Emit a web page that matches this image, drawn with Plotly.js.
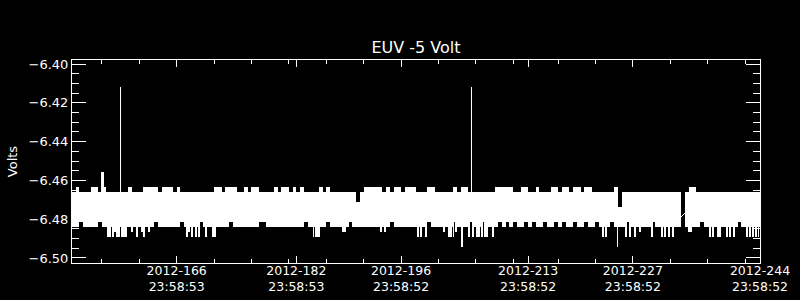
<!DOCTYPE html>
<html>
<head>
<meta charset="utf-8">
<script src="https://cdn.plot.ly/plotly-3.0.1.min.js"></script>
<style>
html,body{margin:0;padding:0;background:#000;}
#chart path.js-line{shape-rendering:crispEdges;}
#chart .bars path{shape-rendering:crispEdges;}
</style>
</head>
<body>
<div id="chart" style="width:800px;height:300px;"></div>
<script>
// ---------------- DATA ----------------
// Major x ticks (day-of-year labels) and their dates
const tickDates = ['2012-06-14 23:58:53','2012-06-30 23:58:53','2012-07-14 23:58:52',
                   '2012-07-31 23:58:52','2012-08-14 23:58:52','2012-08-31 23:58:52'];
const tickLabels = ['2012-166<br>23:58:53','2012-182<br>23:58:53','2012-196<br>23:58:52',
                    '2012-213<br>23:58:52','2012-227<br>23:58:52','2012-244<br>23:58:52'];
// Minor x ticks (day of year)
const minorTickDoy = [157,162,172,177,182,187,192,202,207,212,218,223,233,238,243];
// y ticks
const yTickVals = [-6.50,-6.48,-6.46,-6.44,-6.42,-6.40];

// Half-day envelope of the sampled voltage: maximum and minimum per bin (V)
const binStartDoy = 152.99921;   // 2012-152 23:58:52
const binDays = 0.5;
const bandMax = [
-6.4662,-6.4636,-6.4662,-6.4662,-6.4662,-6.4636,-6.4636,-6.4662,-6.4636,-6.4662,
-6.4662,-6.4662,-6.4662,-6.4662,-6.4662,-6.4636,-6.4662,-6.4662,-6.4662,-6.4636,
-6.4636,-6.4636,-6.4636,-6.4662,-6.4636,-6.4636,-6.4636,-6.4662,-6.4636,-6.4662,
-6.4662,-6.4662,-6.4662,-6.4662,-6.4662,-6.4662,-6.4662,-6.4662,-6.4636,-6.4636,
-6.4662,-6.4636,-6.4636,-6.4636,-6.4662,-6.4662,-6.4636,-6.4662,-6.4636,-6.4636,
-6.4662,-6.4662,-6.4662,-6.4662,-6.4636,-6.4662,-6.4636,-6.4636,-6.4662,-6.4636,
-6.4662,-6.4636,-6.4662,-6.4662,-6.4662,-6.4662,-6.4636,-6.4662,-6.4636,-6.4662,
-6.4662,-6.4662,-6.4662,-6.4662,-6.4662,-6.4662,-6.4713,-6.4662,-6.4636,-6.4636,
-6.4636,-6.4636,-6.4636,-6.4662,-6.4636,-6.4662,-6.4636,-6.4636,-6.4662,-6.4636,
-6.4636,-6.4636,-6.4662,-6.4662,-6.4662,-6.4636,-6.4636,-6.4662,-6.4662,-6.4662,
-6.4662,-6.4662,-6.4636,-6.4662,-6.4636,-6.4636,-6.4662,-6.4662,-6.4662,-6.4662,
-6.4662,-6.4662,-6.4662,-6.4636,-6.4636,-6.4636,-6.4636,-6.4636,-6.4662,-6.4662,
-6.4636,-6.4636,-6.4662,-6.4662,-6.4636,-6.4662,-6.4662,-6.4662,-6.4636,-6.4636,
-6.4662,-6.4636,-6.4636,-6.4662,-6.4636,-6.4636,-6.4662,-6.4636,-6.4636,-6.4662,
-6.4662,-6.4662,-6.4662,-6.4662,-6.4662,-6.4636,-6.4739,-6.4662,-6.4662,-6.4662,
-6.4662,-6.4662,-6.4662,-6.4662,-6.4662,-6.4662,-6.4662,-6.4662,-6.4662,-6.4662,
-6.4662,-6.4662,-6.4662,null,   -6.4662,-6.4636,-6.4636,-6.4662,-6.4662,-6.4662,
-6.4662,-6.4662,-6.4662,-6.4662,-6.4662,-6.4662,-6.4662,-6.4662,-6.4662,-6.4662,
-6.4662,-6.4662,-6.4662,-6.4662
];
const bandMin = [
-6.4842,-6.4842,-6.4816,-6.4842,-6.4842,-6.4842,-6.4842,-6.4816,-6.4842,-6.4842,
-6.4842,-6.4842,-6.4842,-6.4842,-6.4842,-6.4842,-6.4842,-6.4842,-6.4842,-6.4842,
-6.4842,-6.4842,-6.4816,-6.4842,-6.4842,-6.4842,-6.4842,-6.4842,-6.4842,-6.4816,
-6.4842,-6.4842,-6.4842,-6.4842,-6.4816,-6.4842,-6.4842,-6.4842,-6.4842,-6.4842,
-6.4842,-6.4842,-6.4816,-6.4842,-6.4842,-6.4842,-6.4842,-6.4842,-6.4842,-6.4842,
-6.4816,-6.4816,-6.4842,-6.4842,-6.4842,-6.4842,-6.4842,-6.4842,-6.4842,-6.4842,
-6.4842,-6.4842,-6.4816,-6.4842,-6.4842,-6.4893,-6.4842,-6.4842,-6.4816,-6.4842,
-6.4842,-6.4842,-6.4842,-6.4842,-6.4816,-6.4842,-6.4842,-6.4842,-6.4842,-6.4842,
-6.4842,-6.4842,-6.4842,-6.4842,-6.4842,-6.4816,-6.4842,-6.4842,-6.4842,-6.4842,
-6.4842,-6.4842,-6.4842,-6.4842,-6.4842,-6.4816,-6.4842,-6.4842,-6.4842,-6.4842,
-6.4842,-6.4842,-6.4816,-6.4842,-6.4842,-6.4842,-6.4816,-6.4842,-6.4893,-6.4842,
-6.4816,-6.4842,-6.4842,-6.4842,-6.4816,-6.4842,-6.4816,-6.4842,-6.4816,-6.4842,
-6.4842,-6.4816,-6.4842,-6.4816,-6.4842,-6.4842,-6.4816,-6.4842,-6.4842,-6.4816,
-6.4842,-6.4816,-6.4842,-6.4842,-6.4816,-6.4842,-6.4842,-6.4816,-6.4842,-6.4842,
-6.4816,-6.4842,-6.4842,-6.4842,-6.4816,-6.4842,-6.4842,-6.4842,-6.4816,-6.4842,
-6.4842,-6.4842,-6.4842,-6.4842,-6.4842,-6.4816,-6.4842,-6.4842,-6.4842,-6.4842,
-6.4842,-6.4842,-6.4842,null,   -6.4842,-6.4842,-6.4842,-6.4842,-6.4816,-6.4842,
-6.4842,-6.4842,-6.4842,-6.4842,-6.4842,-6.4842,-6.4842,-6.4842,-6.4816,-6.4842,
-6.4842,-6.4842,-6.4842,-6.4842
];

// Isolated excursions (single samples): day of year and voltage
const spikeDoy = [
156.94,157.14,159.51,206.42,
157.81,158.08,158.48,158.75,159.02,159.28,159.69,159.95,160.22,
161.02,161.69,162.36,162.63,163.30,
168.38,168.65,169.05,169.58,169.98,170.92,171.85,172.12,
185.29,186.10,189.24,189.51,
194.32,194.86,199.27,199.67,200.34,202.75,203.41,203.68,204.02,204.35,205.15,
206.09,206.62,207.83,208.23,208.50,209.30,
224.01,224.41,225.92,227.08,227.62,228.29,228.96,230.56,
231.90,232.30,232.83,233.37,235.51,235.78,
238.32,238.72,239.39,239.65,240.59,240.99,241.53,
243.26,243.67,244.07,244.47,244.80
];
const spikeVolts = [
-6.4557,-6.4557,-6.4120,-6.4120,
-6.4893,-6.4893,-6.4893,-6.4868,-6.4893,-6.4893,-6.4893,-6.4893,-6.4893,
-6.4868,-6.4893,-6.4868,-6.4893,-6.4868,
-6.4893,-6.4868,-6.4893,-6.4893,-6.4893,-6.4893,-6.4893,-6.4893,
-6.4893,-6.4893,-6.4868,-6.4868,
-6.4868,-6.4868,-6.4893,-6.4893,-6.4893,-6.4868,-6.4893,-6.4893,-6.4893,-6.4868,-6.4945,
-6.4893,-6.4893,-6.4893,-6.4893,-6.4893,-6.4893,
-6.4893,-6.4893,-6.4945,-6.4893,-6.4893,-6.4893,-6.4868,-6.4893,
-6.4893,-6.4893,-6.4893,-6.4893,-6.4868,-6.4868,
-6.4893,-6.4893,-6.4893,-6.4893,-6.4893,-6.4893,-6.4893,
-6.4893,-6.4893,-6.4893,-6.4893,-6.4893
];

// Samples bridging the data gap near day 235
const gapDoy = [234.499, 234.999];
const gapVolts = [-6.4787, -6.4766];

// ---------------- BUILD ----------------
const T0 = Date.UTC(2012, 0, 1);
function doyToDate(d) {
  const ms = T0 + (d - 1) * 86400000;
  return new Date(ms).toISOString().replace('T', ' ').replace('Z', '');
}

const binX = [], binBase = [], binH = [];
for (let i = 0; i < bandMax.length; i++) {
  binX.push(doyToDate(binStartDoy + binDays * (i + 0.5)));
  if (bandMax[i] === null || bandMin[i] === null) { binBase.push(null); binH.push(null); }
  else { binBase.push(bandMin[i]); binH.push(bandMax[i] - bandMin[i]); }
}

const bandMid = -6.475;
const spX = [], spY = [];
for (let i = 0; i < spikeDoy.length; i++) {
  const d = doyToDate(spikeDoy[i]);
  spX.push(d, d, null);
  spY.push(bandMid, spikeVolts[i], null);
}

const traces = [
  { type: 'bar', x: binX, y: binH, base: binBase, width: binDays * 86400000,
    marker: { color: '#ffffff', line: { width: 0 } }, hoverinfo: 'skip' },
  { type: 'scatter', mode: 'lines', x: spX, y: spY, connectgaps: false,
    line: { color: '#ffffff', width: 1.6 }, hoverinfo: 'skip' },
  { type: 'scatter', mode: 'lines', x: gapDoy.map(doyToDate), y: gapVolts,
    line: { color: '#ffffff', width: 1 }, hoverinfo: 'skip' }
];

const fontFam = 'DejaVu Sans, sans-serif';
const layout = {
  width: 800, height: 300,
  paper_bgcolor: '#000000', plot_bgcolor: '#000000',
  margin: { l: 72, r: 40, t: 60, b: 37 },
  showlegend: false,
  bargap: 0,
  title: { text: 'EUV -5 Volt', font: { family: fontFam, size: 16, color: '#ffffff' },
           x: 0.5, xref: 'paper', xanchor: 'center', y: 0.843, yref: 'container', yanchor: 'middle' },
  xaxis: {
    type: 'date',
    range: ['2012-05-31 23:58:52', '2012-08-31 23:58:52'],
    showline: true, linecolor: '#ffffff', linewidth: 1, mirror: 'allticks',
    ticks: 'inside', ticklen: 7, tickwidth: 1, tickcolor: '#ffffff',
    tickmode: 'array', tickvals: tickDates, ticktext: tickLabels,
    tickfont: { family: fontFam, size: 12.5, color: '#ffffff' },
    ticklabelstandoff: -4,
    showgrid: false, zeroline: false, fixedrange: true,
    minor: { tickmode: 'array', tickvals: minorTickDoy.map(doyToDate), ticks: 'inside',
             ticklen: 4, tickwidth: 1, tickcolor: '#ffffff', showgrid: false }
  },
  yaxis: {
    range: [-6.5026, -6.3979],
    showline: true, linecolor: '#ffffff', linewidth: 1, mirror: 'allticks',
    ticks: 'inside', ticklen: 14, tickwidth: 1, tickcolor: '#ffffff',
    tickmode: 'array', tickvals: yTickVals, tickformat: '.2f',
    tickfont: { family: fontFam, size: 13, color: '#ffffff' },
    showgrid: false, zeroline: false, fixedrange: true,
    minor: { dtick: 0.005, tick0: -6.5, ticks: 'inside', ticklen: 7, tickwidth: 1,
             tickcolor: '#ffffff', showgrid: false },
    title: { text: 'Volts', font: { family: fontFam, size: 13, color: '#ffffff' }, standoff: 8 }
  }
};

Plotly.newPlot('chart', traces, layout, { staticPlot: true, displayModeBar: false });
</script>
</body>
</html>
